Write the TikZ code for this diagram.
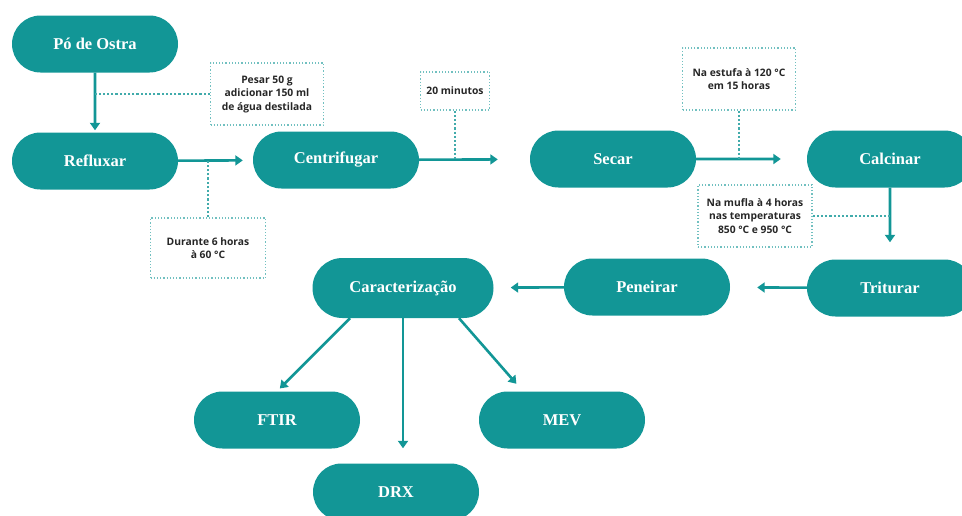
\documentclass[tikz,border=0pt]{standalone}
\usepackage{fontspec}
\newfontfamily\notefont{Open Sans}
\newfontfamily\etapafont{Liberation Serif}
\usepackage{tikz}
\usetikzlibrary{arrows.meta,shapes.misc,calc}
\definecolor{petrol}{RGB}{18,150,150}

\begin{document}
\begin{tikzpicture}[x=1pt,y=-1pt,
	etapa/.style={rounded rectangle,fill=petrol,text=white,minimum width=166pt,minimum height=57pt,inner sep=0pt,font=\etapafont\bfseries\fontsize{16.5}{18}\selectfont},
	nota/.style={draw=petrol!60,dotted,line width=1.2pt,align=center,inner sep=0pt,text=black!85,font=\notefont\bfseries\fontsize{10.3}{13.5}\selectfont},
	seta/.style={petrol,line width=2.6pt,-{Triangle[length=7.5pt,width=10pt]}},
	ligacao/.style={petrol!80,dotted,line width=2.2pt}]
			
			\useasboundingbox (0,0) rectangle (962,515);
			
			% etapas do processo
			\node[etapa] (ostra) at (95,44) {Pó de Ostra};
			\node[etapa] (reflux) at (95,161) {Refluxar};
			\node[etapa] (centri) at (336,160) {Centrifugar};
			\node[etapa] (secar) at (613,159) {Secar};
			\node[etapa] (calc) at (890,159) {Calcinar};
			\node[etapa] (trit) at (890,288) {Triturar};
			\node[etapa] (pen) at (647,287) {Peneirar};
			\node[etapa,minimum width=181pt,minimum height=60pt] (carac) at (403,288) {Caracterização};
			\node[etapa] (ftir) at (277,420) {FTIR};
			\node[etapa] (mev) at (562,420) {MEV};
			\node[etapa] (drx) at (396,492) {DRX};
			
			% notas
			\node[nota,minimum width=113pt,minimum height=62pt] (pesar) at (267,94) {Pesar 50 g\\adicionar 150 ml\\de água destilada};
			\node[nota,minimum width=115pt,minimum height=60pt] (durante) at (208,248) {Durante 6 horas\\à 60 °C};
			\node[nota,minimum width=69pt,minimum height=38pt] (minutos) at (455,91) {20 minutos};
			\node[nota,minimum width=113pt,minimum height=62pt] (estufa) at (739,79) {Na estufa à 120 °C\\em 15 horas};
			\node[nota,minimum width=114pt,minimum height=62pt] (mufla) at (755,216) {Na mufla à 4 horas\\nas temperaturas\\850 °C e 950 °C};
			
			% setas
			\draw[seta,shorten >=2pt] (ostra) -- (reflux);
			\draw[seta,shorten >=10pt] (reflux) -- (centri);
			\draw[seta,shorten >=32pt] (centri) -- (secar);
			\draw[seta,shorten >=26pt] (secar) -- (calc);
			\draw[seta,shorten >=17pt] (calc) -- (trit);
			\draw[seta,shorten >=27pt] (trit) -- (pen);
			\draw[seta,shorten >=17pt] (pen) -- (carac);
			\draw[seta,shorten >=4pt] ([xshift=-53pt]carac.south) -- (ftir.north);
			\draw[seta,shorten >=15pt] (carac.south) -- (carac.south |- drx.north);
			\coordinate (M) at ([xshift=-39pt]mev.north);
			\draw[seta,shorten >=10pt] ([xshift=56pt]carac.south) -- (M);
			
			% ligacoes das notas
			\draw[ligacao] (pesar.west) -- (pesar.west -| ostra);
			\draw[ligacao] (durante.north) -- (durante.north |- reflux);
			\draw[ligacao] (minutos.south) -- (minutos.south |- centri);
			\draw[ligacao] (estufa.south) -- (estufa.south |- secar);
			\draw[ligacao] (mufla.east) -- (mufla.east -| calc);
			
		\end{tikzpicture}
\end{document}
